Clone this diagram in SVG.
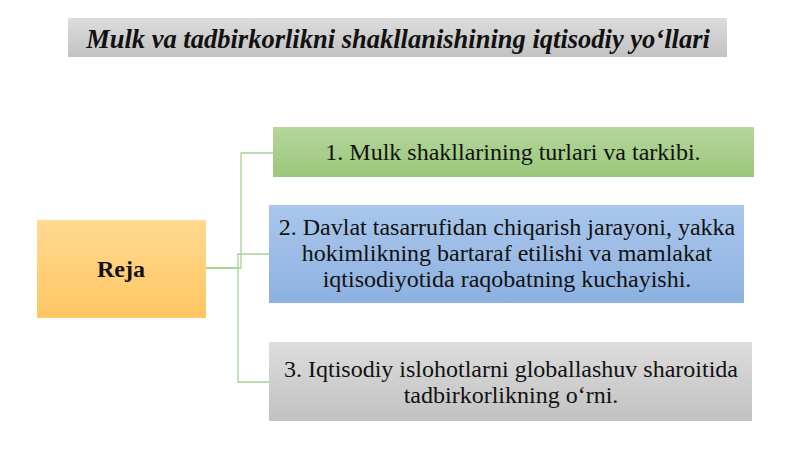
<svg xmlns="http://www.w3.org/2000/svg" width="800" height="449" viewBox="0 0 800 449">
<defs>
<linearGradient id="gGray" x1="0" y1="0" x2="0" y2="1"><stop offset="0" stop-color="#dcdcdc"/><stop offset="1" stop-color="#c2c2c2"/></linearGradient>
<linearGradient id="gGreen" x1="0" y1="0" x2="0" y2="1"><stop offset="0" stop-color="#b4d69a"/><stop offset="1" stop-color="#9bc77c"/></linearGradient>
<linearGradient id="gBlue" x1="0" y1="0" x2="0" y2="1"><stop offset="0" stop-color="#aac7ec"/><stop offset="1" stop-color="#8db1e0"/></linearGradient>
<linearGradient id="gOrange" x1="0" y1="0" x2="0" y2="1"><stop offset="0" stop-color="#ffda91"/><stop offset="1" stop-color="#ffc662"/></linearGradient>
<style>
.conn{fill:none;stroke:#a9d18e;stroke-width:1.3}
.lbl{fill:#111;text-anchor:middle;font-family:"Liberation Serif",serif;font-size:24px}
</style>
</defs>
<rect width="800" height="449" fill="#ffffff"/>
<g id="title">
<rect x="68" y="18" width="659" height="39" fill="url(#gGray)"/>
<text x="398" y="48" class="lbl" font-family="Liberation Serif, serif" style="font-size:26.5px;font-weight:bold;font-style:italic">Mulk va tadbirkorlikni shakllanishining iqtisodiy yo‘llari</text>
</g>
<g id="connectors">
<polyline class="conn" points="206,268 241,268 241,153 273,153"/>
<polyline class="conn" points="206,268 238,268 238,254 270,254"/>
<polyline class="conn" points="206,268 238,268 238,382 270,382"/>
</g>
<g id="reja">
<rect x="37" y="220" width="169" height="98" fill="url(#gOrange)"/>
<text x="121" y="277" class="lbl" font-family="Liberation Serif, serif" font-weight="bold">Reja</text>
</g>
<g id="item1">
<rect x="273" y="127" width="481" height="50" fill="url(#gGreen)"/>
<text x="513" y="160" class="lbl" font-family="Liberation Serif, serif">1. Mulk shakllarining turlari va tarkibi.</text>
</g>
<g id="item2">
<rect x="269" y="205" width="475" height="98" fill="url(#gBlue)"/>
<text class="lbl" font-family="Liberation Serif, serif"><tspan x="507" y="235">2. Davlat tasarrufidan chiqarish jarayoni, yakka</tspan><tspan x="507" y="261">hokimlikning bartaraf etilishi va mamlakat</tspan><tspan x="507" y="287">iqtisodiyotida raqobatning kuchayishi.</tspan></text>
</g>
<g id="item3">
<rect x="269" y="342" width="483" height="79" fill="url(#gGray)"/>
<text class="lbl" font-family="Liberation Serif, serif"><tspan x="511" y="377">3. Iqtisodiy islohotlarni globallashuv sharoitida</tspan><tspan x="511" y="403">tadbirkorlikning o‘rni.</tspan></text>
</g>
</svg>
